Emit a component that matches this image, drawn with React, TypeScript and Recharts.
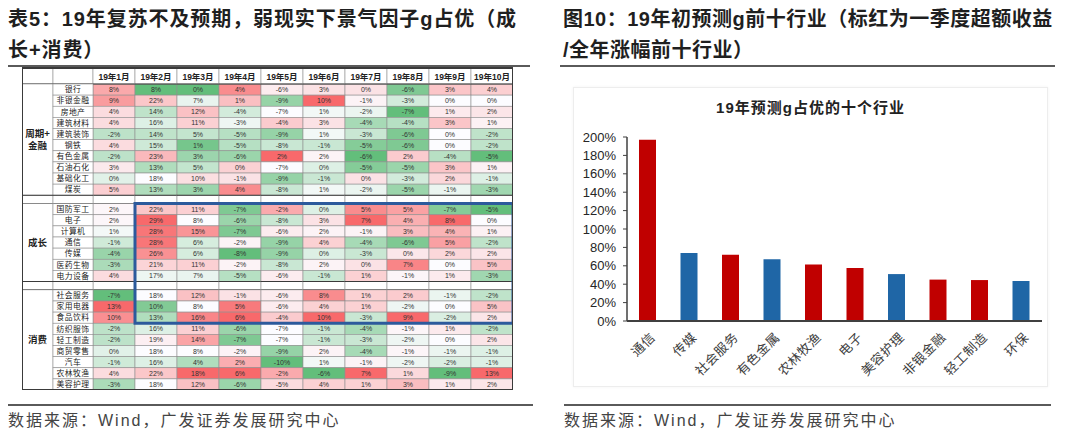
import React from 'react';
import { ScatterChart, Scatter, XAxis, YAxis, ReferenceArea, BarChart, Bar, Cell } from 'recharts';

// ---- left table: monthly excess returns by industry ----
const months = ['19年1月', '19年2月', '19年3月', '19年4月', '19年5月', '19年6月', '19年7月', '19年8月', '19年9月', '19年10月'];

const cycleNames = ['银行', '非银金融', '房地产', '建筑材料', '建筑装饰', '钢铁', '有色金属', '石油石化', '基础化工', '煤炭'];
const cycleValues = [
  [8, 8, 0, 4, -6, 3, 0, -6, 3, 4],
  [9, 22, 7, 1, -9, 10, -1, -3, 0, 0],
  [4, 14, 12, -4, -7, 1, -2, -7, 1, 2],
  [4, 16, 11, -3, -4, 3, -4, -4, 3, 1],
  [-2, 14, 5, -5, -9, 1, -3, -6, 0, -2],
  [4, 15, 1, -5, -8, -1, -5, -6, 0, -2],
  [-2, 23, 3, -6, 2, 2, -6, 2, -4, -5],
  [3, 13, 5, 0, -7, 0, -5, -5, 3, 1],
  [0, 18, 10, -1, -9, -1, 0, -3, 2, -1],
  [5, 13, 3, 4, -8, 1, -2, -5, -1, -3],
];

const growthNames = ['国防军工', '电子', '计算机', '通信', '传媒', '医药生物', '电力设备'];
const growthValues = [
  [2, 22, 11, -7, -2, 0, 5, 5, -7, -5],
  [2, 29, 8, -6, -8, 3, 7, 4, 8, 0],
  [1, 28, 15, -7, -6, 2, -1, 3, 4, 1],
  [-1, 28, 6, -2, -9, 4, -4, -6, 5, -2],
  [-4, 26, 6, -8, -9, 0, -3, 0, 2, 2],
  [-3, 21, 11, -2, -8, 2, 0, 7, 0, 5],
  [4, 17, 7, -5, -6, -1, 1, -1, 1, -3],
];

const consumerNames = ['社会服务', '家用电器', '食品饮料', '纺织服饰', '轻工制造', '商贸零售', '汽车', '农林牧渔', '美容护理'];
const consumerValues = [
  [-7, 18, 12, -1, -6, 8, 1, 2, -1, -2],
  [13, 10, 8, 5, -6, 4, 1, -2, 0, 5],
  [10, 13, 16, 6, -4, 10, -3, 9, -2, 2],
  [-2, 16, 11, -6, -7, -1, -4, -1, 1, -2],
  [-2, 19, 14, -7, -7, -1, -3, -2, 0, 2],
  [0, 18, 8, -2, -9, 2, -4, -1, -1, -1],
  [-1, 16, 4, 2, -10, 1, -1, -2, -2, -1],
  [4, 22, 18, 6, -2, -6, 7, 1, -9, 13],
  [-3, 18, 12, -6, -5, 4, 1, 3, 1, 2],
];

const groupLabels = [['周期+', '金融'], ['成长'], ['消费']];

// ---- right chart: forecast g top ten ----
const industries = ['通信', '传媒', '社会服务', '有色金属', '农林牧渔', '电子', '美容护理', '非银金融', '轻工制造', '环保'];
const forecastG = [197, 74, 72, 67, 61.5, 57.5, 51, 45, 44.5, 43.5];
const q1Top = [true, false, true, false, true, true, false, true, true, false];
const gTicks = [0, 20, 40, 60, 80, 100, 120, 140, 160, 180, 200];

const SANS = "'Liberation Sans', 'Noto Sans CJK SC', sans-serif";
const CJK = "'Noto Sans CJK SC', sans-serif";

// table geometry
const T_LEFT = 22;
const T_TOP = 68;
const T_W = 491;
const T_H = 322;
const HEAD_H = 16;
const GROUP_W = 31;
const NAME_W = 40;
const SEP = 0.75;
const GRID = '#8f8f8f';
const DARK = '#3a3a3a';

type Row = { name: string; values: number[] | null; top: number; h: number; group: number; first: boolean; size: number };

const groups = [
  { names: cycleNames, values: cycleValues },
  { names: growthNames, values: growthValues },
  { names: consumerNames, values: consumerValues },
];

const rows: Row[] = [];
let cursor = 0;
groups.forEach((g, gi) => {
  if (gi > 0) {
    rows.push({ name: '', values: null, top: cursor, h: SEP, group: -1, first: false, size: 0 });
    cursor += SEP;
  }
  g.names.forEach((n, i) => {
    rows.push({ name: n, values: g.values[i], top: cursor, h: 1, group: gi, first: i === 0, size: g.names.length });
    cursor += 1;
  });
});
const TOTAL = cursor;
const PLOT_W = T_W - GROUP_W - NAME_W;
const CELL_W = PLOT_W / months.length;
const UNIT = (T_H - HEAD_H) / TOTAL;
const rowCentres = rows.map((r) => r.top + r.h / 2);

const allValues = [...cycleValues, ...growthValues, ...consumerValues];
const colStats = months.map((_, j) => {
  const col = allValues.map((r) => r[j]).sort((a, b) => a - b);
  const n = col.length;
  const mid = n % 2 ? col[(n - 1) / 2] : (col[n / 2 - 1] + col[n / 2]) / 2;
  return { min: col[0], mid, max: col[n - 1] };
});

const GREEN = [99, 190, 123];
const WHITE = [252, 252, 255];
const RED = [248, 105, 107];
const mix = (a: number[], b: number[], t: number) =>
  `rgb(${a.map((c, i) => Math.round(c + (b[i] - c) * t)).join(',')})`;
const heat = (v: number, s: { min: number; mid: number; max: number }) => {
  if (v <= s.mid) return mix(GREEN, WHITE, s.mid === s.min ? 1 : (v - s.min) / (s.mid - s.min));
  return mix(WHITE, RED, (v - s.mid) / (s.max - s.mid));
};

const cells = rows.flatMap((r, ri) =>
  months.map((_, j) => ({
    x: j,
    y: rowCentres[ri],
    h: r.h,
    v: r.values ? r.values[j] : null,
    fill: r.values ? heat(r.values[j], colStats[j]) : '#ffffff',
  }))
);

const blueTop = rows.find((r) => r.name === '国防军工')!.top;
const blueBottom = rows.find((r) => r.name === '食品饮料')!.top + 1;

const rowAt = (value: number) => rows[rowCentres.findIndex((c) => Math.abs(c - value) < 1e-6)];

const HeatCell = (p: any) => {
  const { cx, cy, payload } = p;
  const h = payload.h * UNIT;
  const x0 = cx - CELL_W / 2;
  const y0 = cy - h / 2;
  return (
    <g>
      <rect x={x0} y={y0} width={CELL_W} height={h} fill={payload.fill} stroke={GRID} strokeWidth={0.6} />
      {payload.v === null ? (
        <g>
          <line x1={x0} x2={x0 + CELL_W} y1={y0} y2={y0} stroke={DARK} strokeWidth={1.2} />
          <line x1={x0} x2={x0 + CELL_W} y1={y0 + h} y2={y0 + h} stroke={DARK} strokeWidth={1.2} />
        </g>
      ) : (
        <text x={cx} y={cy} dy="0.35em" textAnchor="middle" fontSize={7} fill="#333" fontFamily={SANS}>
          {payload.v}%
        </text>
      )}
    </g>
  );
};

const NameTick = (p: any) => {
  const r = rowAt(p.payload.value);
  if (!r) return <g />;
  const h = r.h * UNIT;
  const y0 = p.y - h / 2;
  const isSep = r.values === null;
  return (
    <g>
      {r.first && (
        <g>
          <rect x={0} y={y0} width={GROUP_W} height={r.size * UNIT} fill="#fff" stroke={GRID} strokeWidth={0.6} />
          {groupLabels[r.group].map((t, i, arr) => (
            <text
              key={i}
              x={GROUP_W / 2}
              y={y0 + (r.size * UNIT) / 2 + (i - (arr.length - 1) / 2) * 12}
              dy="0.35em"
              textAnchor="middle"
              fontSize={9.5}
              fontWeight="bold"
              fill="#222"
              fontFamily={CJK}
            >
              {t}
            </text>
          ))}
        </g>
      )}
      {isSep && <rect x={0} y={y0} width={GROUP_W} height={h} fill="#fff" stroke={GRID} strokeWidth={0.6} />}
      <rect x={GROUP_W} y={y0} width={NAME_W} height={h} fill="#fff" stroke={GRID} strokeWidth={0.6} />
      {isSep ? (
        <g>
          <line x1={0} x2={GROUP_W + NAME_W} y1={y0} y2={y0} stroke={DARK} strokeWidth={1.2} />
          <line x1={0} x2={GROUP_W + NAME_W} y1={y0 + h} y2={y0 + h} stroke={DARK} strokeWidth={1.2} />
        </g>
      ) : (
        <text x={GROUP_W + NAME_W / 2} y={p.y} dy="0.35em" textAnchor="middle" fontSize={7.8} letterSpacing={0.4} fill="#222" fontFamily={CJK}>
          {r.name}
        </text>
      )}
    </g>
  );
};

const HeadTick = (p: any) => {
  const i = p.payload.value;
  const x0 = p.x - CELL_W / 2;
  return (
    <g>
      {i === 0 && (
        <g>
          <rect x={0} y={0} width={GROUP_W} height={HEAD_H} fill="#fff" stroke={GRID} strokeWidth={0.6} />
          <rect x={GROUP_W} y={0} width={NAME_W} height={HEAD_H} fill="#fff" stroke={GRID} strokeWidth={0.6} />
          <line x1={0} x2={GROUP_W + NAME_W} y1={HEAD_H} y2={HEAD_H} stroke={DARK} strokeWidth={1} />
        </g>
      )}
      <rect x={x0} y={0} width={CELL_W} height={HEAD_H} fill="#fff" stroke={GRID} strokeWidth={0.6} />
      <line x1={x0} x2={x0 + CELL_W} y1={HEAD_H} y2={HEAD_H} stroke={DARK} strokeWidth={1} />
      <text x={p.x} y={HEAD_H / 2 + 1} dy="0.35em" textAnchor="middle" fontSize={8.5} fontWeight="bold" fill="#222" fontFamily={SANS}>
        {months[i]}
      </text>
    </g>
  );
};

const RotTick = (p: any) => (
  <g transform={`translate(${p.x + 5},${p.y + 6})`}>
    <text transform="rotate(-45)" textAnchor="end" dy="0.35em" fontSize={13} letterSpacing={0.5} fill="#404040" fontFamily={CJK}>
      {p.payload.value}
    </text>
  </g>
);

const barData = industries.map((name, i) => ({ name, g: forecastG[i], top: q1Top[i] }));

const line = (left: number, top: number, width: number): React.CSSProperties => ({
  position: 'absolute',
  left,
  top,
  width,
  height: 2,
  background: '#5a5a5a',
});

const titleStyle: React.CSSProperties = {
  position: 'absolute',
  top: 4,
  fontFamily: SANS,
  fontSize: 20,
  fontWeight: 'bold',
  lineHeight: '31px',
  letterSpacing: 0.9,
  color: '#1f1f1f',
  whiteSpace: 'nowrap',
};

const sourceStyle: React.CSSProperties = {
  position: 'absolute',
  top: 411,
  fontFamily: SANS,
  fontSize: 16,
  lineHeight: '20px',
  letterSpacing: 2,
  color: '#444',
  whiteSpace: 'nowrap',
};

export default function App() {
  return (
    <div style={{ position: 'relative', width: 1080, height: 437, margin: -8, background: '#fff', overflow: 'hidden' }}>
      {/* left: heat table */}
      <div style={{ ...titleStyle, left: 8 }}>
        表5：19年复苏不及预期，弱现实下景气因子g占优（成
        <br />
        长+消费）
      </div>
      <div style={line(8, 65, 522)} />

      <div style={{ position: 'absolute', left: T_LEFT, top: T_TOP }}>
        <ScatterChart width={T_W} height={T_H} margin={{ top: 0, right: 0, bottom: 0, left: 0 }}>
          <XAxis
            type="number"
            dataKey="x"
            orientation="top"
            domain={[-0.5, months.length - 0.5]}
            ticks={months.map((_, i) => i)}
            interval={0}
            height={HEAD_H}
            axisLine={false}
            tickLine={false}
            tick={HeadTick}
          />
          <YAxis
            yAxisId="rows"
            type="number"
            dataKey="y"
            domain={[0, TOTAL]}
            reversed
            ticks={rowCentres}
            interval={0}
            width={GROUP_W + NAME_W}
            axisLine={false}
            tickLine={false}
            tick={NameTick}
          />
          <Scatter yAxisId="rows" data={cells} shape={HeatCell} isAnimationActive={false} />
          <ReferenceArea
            yAxisId="rows"
            x1={0.5}
            x2={months.length - 0.5}
            y1={blueTop}
            y2={blueBottom}
            fill="none"
            fillOpacity={0}
            stroke="#2c5a9c"
            strokeWidth={3}
            ifOverflow="visible"
            {...({ zIndex: 3000 } as any)}
          />
        </ScatterChart>
      </div>
      <div
        style={{
          position: 'absolute',
          left: T_LEFT - 0.5,
          top: T_TOP - 1,
          width: T_W,
          height: T_H + 1,
          borderTop: `2px solid ${DARK}`,
          borderLeft: `1.2px solid ${DARK}`,
          borderRight: `1.2px solid ${DARK}`,
          borderBottom: `1.2px solid ${DARK}`,
          boxSizing: 'border-box',
          pointerEvents: 'none',
        }}
      />

      <div style={line(7, 404, 526)} />
      <div style={{ ...sourceStyle, left: 8 }}>数据来源：Wind，广发证券发展研究中心</div>

      {/* right: bar chart */}
      <div style={{ ...titleStyle, left: 563, letterSpacing: 0.5 }}>
        图10：19年初预测g前十行业（标红为一季度超额收益
        <br />
        /全年涨幅前十行业）
      </div>
      <div style={line(560, 65, 495)} />

      <div
        style={{
          position: 'absolute',
          left: 573,
          top: 87,
          width: 475,
          height: 300,
          border: '1px solid #ededed',
          boxSizing: 'border-box',
          boxShadow: '0 0 3px rgba(0,0,0,0.05)',
        }}
      />
      <div
        style={{
          position: 'absolute',
          left: 573,
          width: 475,
          top: 98,
          textAlign: 'center',
          fontFamily: SANS,
          fontSize: 15,
          fontWeight: 'bold',
          letterSpacing: 1,
          lineHeight: '20px',
          color: '#222',
        }}
      >
        19年预测g占优的十个行业
      </div>
      <div style={{ position: 'absolute', left: 573, top: 87 }}>
        <BarChart width={475} height={300} data={barData} margin={{ top: 50, right: 6, bottom: 0, left: 0 }} barSize={17}>
          <XAxis
            dataKey="name"
            interval={0}
            height={66}
            tickLine={false}
            axisLine={{ stroke: '#404040', strokeWidth: 2 }}
            tick={RotTick}
          />
          <YAxis
            domain={[0, 200]}
            ticks={gTicks}
            interval={0}
            width={54}
            tickFormatter={(v: number) => `${v}%`}
            axisLine={{ stroke: '#404040', strokeWidth: 1.5 }}
            tickLine={{ stroke: '#404040' }}
            tickSize={4}
            tickMargin={7}
            tick={{ fontSize: 13, fill: '#262626', fontFamily: SANS }}
          />
          <Bar dataKey="g" isAnimationActive={false}>
            {barData.map((d, i) => (
              <Cell key={i} fill={d.top ? '#c00000' : '#1f66a6'} />
            ))}
          </Bar>
        </BarChart>
      </div>
      <div style={line(564, 404, 487)} />
      <div style={{ ...sourceStyle, left: 564 }}>数据来源：Wind，广发证券发展研究中心</div>
    </div>
  );
}
